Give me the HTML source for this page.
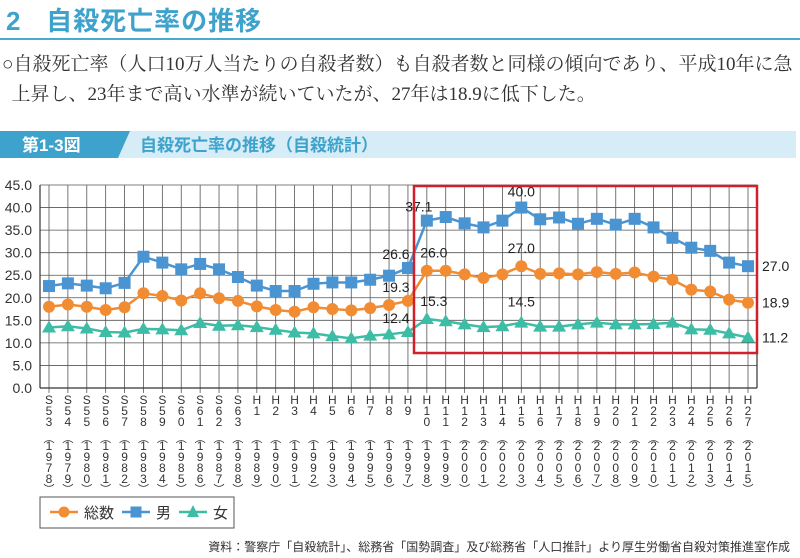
<!DOCTYPE html>
<html><head><meta charset="utf-8">
<style>
body{margin:0;width:800px;height:558px;background:#fff;overflow:hidden;position:relative;font-family:"Liberation Sans","Noto Sans CJK JP",sans-serif}
.abs{position:absolute}
</style></head><body>
<div class="abs" style="left:6px;top:1px;font-size:26px;font-weight:bold;color:#3ea3cc;letter-spacing:1px">2&nbsp;&nbsp;&nbsp;自殺死亡率の推移</div>
<div class="abs" style="left:0;top:38px;width:800px;height:2px;background:#4aa9cf"></div>
<div class="abs" style="left:2px;top:50px;font-family:'Liberation Serif','Noto Serif CJK SC',serif;font-size:19px;line-height:30px;color:#333;white-space:nowrap">○自殺死亡率（人口10万人当たりの自殺者数）も自殺者数と同様の傾向であり、平成10年に急<br>&nbsp;&nbsp;上昇し、23年まで高い水準が続いていたが、27年は18.9に低下した。</div>
<svg class="abs" style="left:0;top:128px" width="800" height="32">
<rect x="0" y="3" width="796" height="27" fill="#d6ecf6"/>
<polygon points="0,3 130,3 118,30 0,30" fill="#3ea3cc"/>
<text x="22" y="23" font-size="17" font-weight="bold" fill="#fff" font-family="Liberation Sans,Noto Sans CJK JP,sans-serif">第1-3図</text>
<text x="140" y="23" font-size="17" font-weight="bold" fill="#3ea3cc" font-family="Liberation Sans,Noto Sans CJK JP,sans-serif">自殺死亡率の推移（自殺統計）</text>
</svg>
<svg id="chart" class="abs" style="left:0;top:0" width="800" height="558"></svg>
<div class="abs" style="right:10px;top:538px;font-size:12px;color:#333;white-space:nowrap">資料：警察庁「自殺統計」、総務省「国勢調査」及び総務省「人口推計」より厚生労働省自殺対策推進室作成</div>
<script>
const eras=["S53","S54","S55","S56","S57","S58","S59","S60","S61","S62","S63","H1","H2","H3","H4","H5","H6","H7","H8","H9","H10","H11","H12","H13","H14","H15","H16","H17","H18","H19","H20","H21","H22","H23","H24","H25","H26","H27"];
const years=["1978","1979","1980","1981","1982","1983","1984","1985","1986","1987","1988","1989","1990","1991","1992","1993","1994","1995","1996","1997","1998","1999","2000","2001","2002","2003","2004","2005","2006","2007","2008","2009","2010","2011","2012","2013","2014","2015"];
const total=[18.0,18.5,18.0,17.3,17.9,21.0,20.4,19.4,21.0,19.9,19.3,18.1,17.3,16.9,17.9,17.5,17.2,17.7,18.4,19.3,26.0,26.0,25.2,24.4,25.2,27.0,25.3,25.4,25.2,25.7,25.3,25.6,24.7,24.0,21.8,21.4,19.6,18.9];
const male=[22.6,23.2,22.7,22.1,23.3,29.1,27.8,26.3,27.5,26.3,24.6,22.7,21.5,21.5,23.1,23.4,23.4,24.0,24.9,26.6,37.1,37.9,36.5,35.6,37.1,40.0,37.4,37.8,36.4,37.5,36.2,37.5,35.6,33.3,31.1,30.4,27.8,27.0];
const female=[13.4,13.7,13.2,12.4,12.3,13.1,13.0,12.8,14.4,13.8,13.9,13.5,12.9,12.3,12.1,11.5,11.0,11.6,11.9,12.4,15.3,14.8,14.1,13.5,13.7,14.5,13.6,13.6,14.1,14.5,14.1,14.1,14.2,14.5,13.0,12.9,12.1,11.2];
const yTicks=[0,5,10,15,20,25,30,35,40,45];
const NS="http://www.w3.org/2000/svg";
const svg=document.getElementById('chart');
const L=40,R=757,T=185,B=388,X0=49,DX=(748-49)/37;
const xs=i=>X0+i*DX, ys=v=>B-(v/45)*(B-T);
function mk(t,a,p){const e=document.createElementNS(NS,t);for(const k in a)e.setAttribute(k,a[k]);(p||svg).appendChild(e);return e;}
const grid=mk('g',{});


yTicks.forEach(v=>{mk('line',{x1:L,x2:R,y1:ys(v),y2:ys(v),stroke:'#555','stroke-width':0.8},grid);
 const t=mk('text',{x:32,y:ys(v)+5,'text-anchor':'end','font-size':14,fill:'#333'});t.textContent=v.toFixed(1);
 });
eras.forEach((e,i)=>{mk('line',{x1:xs(i),x2:xs(i),y1:T,y2:B+5,stroke:'#555','stroke-width':0.8},grid);
 const g=mk('g',{});
 
 
 let y=404;
 e.split('').forEach(c=>{const t=mk('text',{x:xs(i),y:y,'text-anchor':'middle','font-size':12,fill:'#333'},g);t.textContent=c;y+=11;});
 const po=mk('text',{x:xs(i),y:442,'text-anchor':'middle','font-size':11,fill:'#333','font-family':'Noto Sans CJK JP,sans-serif'},g);po.textContent='︵';
 y=450;years[i].split('').forEach(c=>{const t=mk('text',{x:xs(i),y:y,'text-anchor':'middle','font-size':12,fill:'#333'},g);t.textContent=c;y+=11;});
 const pc=mk('text',{x:xs(i),y:y-1,'text-anchor':'middle','font-size':11,fill:'#333','font-family':'Noto Sans CJK JP,sans-serif'},g);pc.textContent='︶';
});
mk('line',{x1:L,x2:L,y1:T,y2:B,stroke:'#333','stroke-width':1.2},grid);
mk('line',{x1:R,x2:R,y1:T,y2:B,stroke:'#333','stroke-width':1.2},grid);
mk('line',{x1:L,x2:R,y1:B,y2:B,stroke:'#333','stroke-width':1.2},grid);
function series(data,color,shape,name){
 const g=mk('g',{});
 
 
 mk('polyline',{points:data.map((v,i)=>xs(i)+','+ys(v)).join(' '),fill:'none',stroke:color,'stroke-width':2.5},g);
 data.forEach((v,i)=>{const x=xs(i),y=ys(v);let m;
  if(shape==='c')m=mk('circle',{cx:x,cy:y,r:6,fill:color},g);
  else if(shape==='s')m=mk('rect',{x:x-6,y:y-6,width:12,height:12,fill:color},g);
  else m=mk('polygon',{points:`${x},${y-7} ${x+7},${y+5} ${x-7},${y+5}`,fill:color},g);
  });
}
series(female,'#3dbca6','t','series-female');
series(total,'#f28c33','c','series-total');
series(male,'#4a94d2','s','series-male');
function lab(txt,x,y,a){const t=mk('text',{x:x,y:y,'text-anchor':a||'middle','font-size':14,fill:'#222'});t.textContent=txt;
 }
lab(male[19].toFixed(1),xs(19)-12,ys(male[19])-9);lab(total[19].toFixed(1),xs(19)-12,ys(total[19])-9);lab(female[19].toFixed(1),xs(19)-12,ys(female[19])-9);
lab(male[20].toFixed(1),xs(20)-8,ys(male[20])-9);lab(total[20].toFixed(1),xs(20)+7,ys(total[20])-13);lab(female[20].toFixed(1),xs(20)+7,ys(female[20])-13);
lab(male[25].toFixed(1),xs(25),ys(male[25])-11);lab(total[25].toFixed(1),xs(25),ys(total[25])-13);lab(female[25].toFixed(1),xs(25),ys(female[25])-16);
lab(male[37].toFixed(1),762,ys(male[37])+5,'start');lab(total[37].toFixed(1),762,ys(total[37])+5,'start');lab(female[37].toFixed(1),762,ys(female[37])+5,'start');
const hl=mk('rect',{x:414,y:186,width:343,height:167,fill:'none',stroke:'#d0202a','stroke-width':2.5});

const lg=mk('g',{});


mk('rect',{x:40,y:497,width:194,height:31,fill:'#fff',stroke:'#555'},lg);
[['総数','#f28c33','c',50],['男','#4a94d2','s',122],['女','#3dbca6','t',179]].forEach(([n,c,s,x])=>{
 const e=mk('g',{},lg);
 
 
 mk('line',{x1:x,x2:x+28,y1:512,y2:512,stroke:c,'stroke-width':2.5},e);
 const cx=x+14;
 if(s==='c')mk('circle',{cx:cx,cy:512,r:5.5,fill:c},e);
 else if(s==='s')mk('rect',{x:cx-5.5,y:506.5,width:11,height:11,fill:c},e);
 else mk('polygon',{points:`${cx},505 ${cx+6},517 ${cx-6},517`,fill:c},e);
 const t=mk('text',{x:x+34,y:518,'font-size':15,fill:'#333'},e);t.textContent=n;});
</script>
</body></html>
